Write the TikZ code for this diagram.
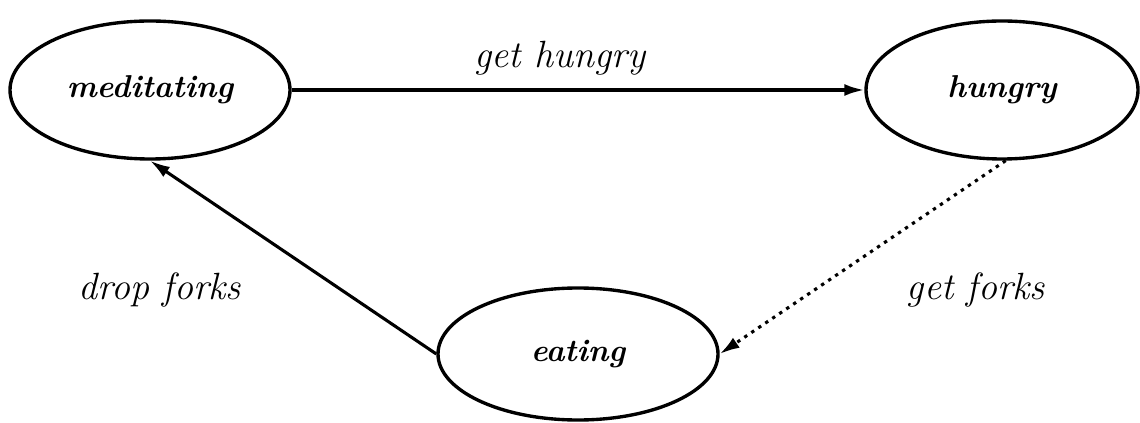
\documentclass[tikz,border=0pt]{standalone}
\usepackage{fontspec}
\usetikzlibrary{arrows.meta,shapes.geometric}

\begin{document}
\begin{tikzpicture}[
  state/.style={ellipse,draw=black,line width=2.4pt,minimum width=7.0cm,minimum height=3.45cm,font=\fontsize{22.5}{27}\selectfont\bfseries\itshape},
  trans/.style={font=\fontsize{27}{32}\selectfont\itshape},
  arrow/.style={-{Latex[length=5mm,width=3mm]},line width=2.2pt}
]
\useasboundingbox (0,0) rectangle (28.5,-10.575);
\node[state] (med) at (3.75,-2.25) {meditating};
\node[state,minimum width=6.8cm] (hun) at (25.05,-2.25) {hungry};
\node[state,minimum height=3.3cm] (eat) at (14.45,-8.85) {eating};
\draw[arrow] (med.east) -- (hun.west);
\draw[arrow,dash pattern=on 2.4pt off 3.6pt] (hun.-87) -- (eat.east);
\draw[arrow] (eat.west) -- (med.south);
\node[trans] (gh) at (14.0,-1.45) {get hungry};
\node[trans] (df) at (4.0,-7.25) {drop forks};
\node[trans] (gf) at (24.4,-7.25) {get forks};
\end{tikzpicture}
\end{document}
